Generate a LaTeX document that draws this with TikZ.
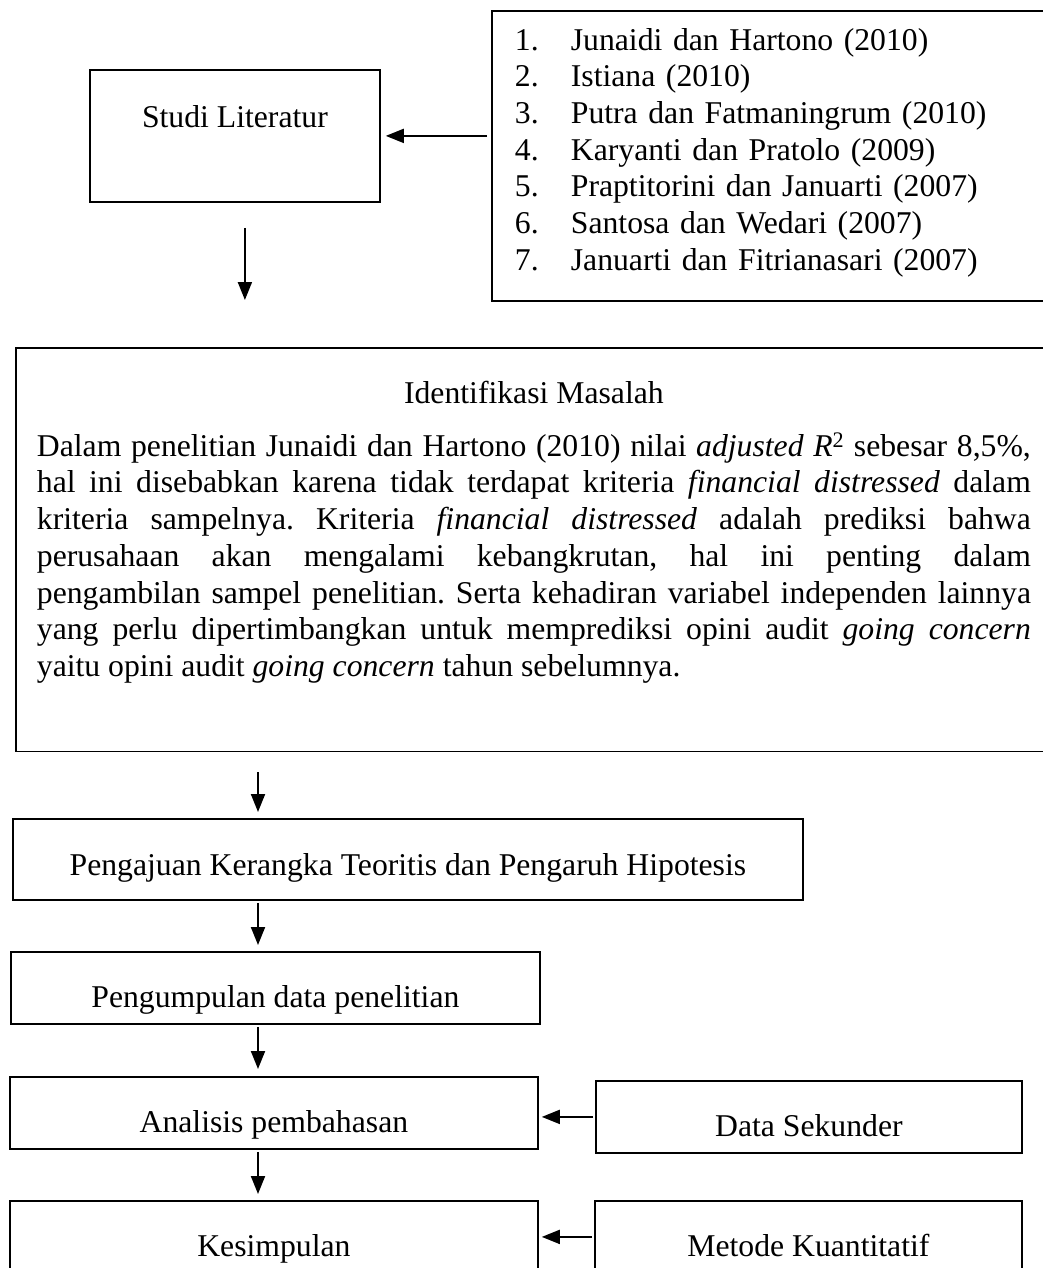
\documentclass[tikz,border=0pt]{standalone}
\usepackage{fontspec}
\setmainfont{Liberation Serif}
\usetikzlibrary{arrows.meta,positioning}
\frenchspacing

\begin{document}
\begin{tikzpicture}[x=1pt,y=-1pt,>={Triangle[length=18pt,width=14pt]},
  every node/.style={font=\fontsize{31.7}{36.7}\selectfont},
  flowbox/.style={draw,line width=1.8pt,anchor=north west,minimum height=72pt,text height=48pt,text depth=8pt,inner sep=0pt},
  linkarrow/.style={->,line width=1.9pt}]
\clip (0,0) rectangle (1043,1268);
% kotak atas
\node[flowbox,minimum width=290pt,minimum height=132pt,text height=12pt,text depth=28pt] (studi) at (89,69) {Studi Literatur};
\node[draw,line width=1.8pt,anchor=north west,minimum height=290pt,inner xsep=23pt,text width=534pt,align=left] (sumber) at (491,10) {%
  \begin{tabular}{@{}p{56pt}@{}l@{}}
  1. & Junaidi dan Hartono (2010)\\
  2. & Istiana (2010)\\
  3. & Putra dan Fatmaningrum (2010)\\
  4. & Karyanti dan Pratolo (2009)\\
  5. & Praptitorini dan Januarti (2007)\\
  6. & Santosa dan Wedari (2007)\\
  7. & Januarti dan Fitrianasari (2007)\rule[-17pt]{0pt}{1pt}
  \end{tabular}};
% identifikasi masalah
\node[draw,line width=1.8pt,anchor=north west,inner xsep=21pt,inner ysep=30pt,text width=994pt,align=justify] (masalah) at (15,347) {%
  \centerline{\strut Identifikasi Masalah}\vspace{16pt}
  \noindent Dalam penelitian Junaidi dan Hartono (2010) nilai \textit{adjusted R}\textsuperscript{2} sebesar 8,5\%,\linebreak
  hal ini disebabkan karena tidak terdapat kriteria \textit{financial distressed} dalam\linebreak
  kriteria sampelnya. Kriteria \textit{financial distressed} adalah prediksi bahwa\linebreak
  perusahaan akan mengalami kebangkrutan, hal ini penting dalam\linebreak
  pengambilan sampel penelitian. Serta kehadiran variabel independen lainnya\linebreak
  yang perlu dipertimbangkan untuk memprediksi opini audit \textit{going concern}\linebreak
  yaitu opini audit \textit{going concern} tahun sebelumnya.\rule[-45pt]{0pt}{1pt}};
% alur bawah
\node[flowbox,minimum width=790pt,minimum height=81pt,text height=40pt] (pengajuan) at (12,818) {Pengajuan Kerangka Teoritis dan Pengaruh Hipotesis};
\node[flowbox,minimum width=529pt] (pengumpulan) at (10,951) {Pengumpulan data penelitian};
\node[flowbox,minimum width=528pt] (analisis) at (9,1076) {Analisis pembahasan};
\node[flowbox,minimum width=426pt] (sekunder) at (595,1080) {Data Sekunder};
\node[flowbox,minimum width=528pt] (kesimpulan) at (9,1200) {Kesimpulan};
\node[flowbox,minimum width=427pt] (metode) at (594,1200) {Metode Kuantitatif};
\coordinate (kolom) at (258,0);
% panah
\draw[linkarrow,shorten <=4pt,shorten >=5pt] (studi.east -| sumber.west) -- (studi.east);
\draw[linkarrow,shorten <=25pt,shorten >=47pt] ([xshift=10pt]studi.south) -- ([xshift=10pt]studi.south |- masalah.north);
\draw[linkarrow,shorten <=20pt,shorten >=6pt] (masalah.south -| kolom) -- (pengajuan.north -| kolom);
\draw[linkarrow,shorten <=2pt,shorten >=6pt] (pengajuan.south -| kolom) -- (pengumpulan.north -| kolom);
\draw[linkarrow,shorten <=2pt,shorten >=7pt] (pengumpulan.south -| kolom) -- (analisis.north -| kolom);
\draw[linkarrow,shorten <=2pt,shorten >=6pt] (analisis.south -| kolom) -- (kesimpulan.north -| kolom);
\draw[linkarrow,shorten <=2pt,shorten >=3pt] (sekunder.west) -- (sekunder.west -| analisis.east);
\draw[linkarrow,shorten <=2pt,shorten >=3pt] (metode.west) -- (metode.west -| kesimpulan.east);
\end{tikzpicture}
\end{document}
